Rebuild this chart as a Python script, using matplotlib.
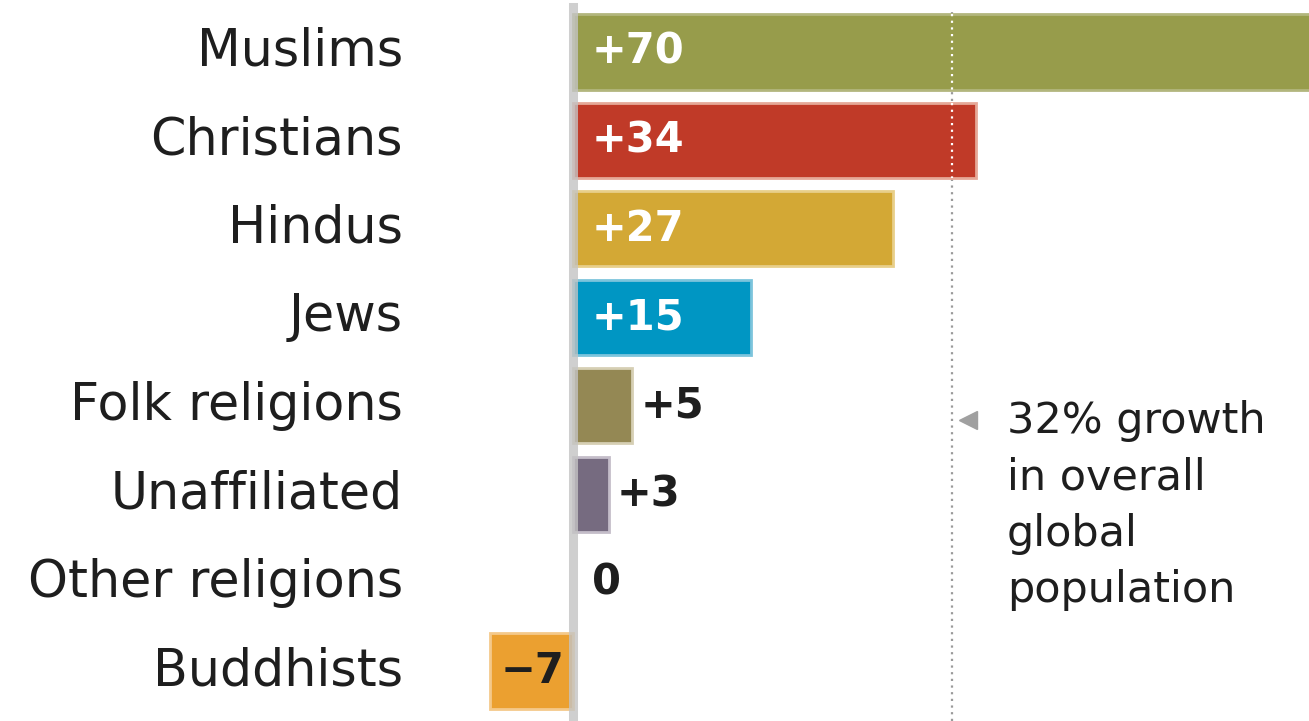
import matplotlib.pyplot as plt

groups = ["Muslims", "Christians", "Hindus", "Jews", "Folk religions",
          "Unaffiliated", "Other religions", "Buddhists"]
growth = [70, 34, 27, 15, 5, 3, 0, -7]
colors = ["#979c4b", "#c03a28", "#d3a835", "#0096c3", "#948854",
          "#766b80", "#ffffff", "#eba030"]
edges = ["#b2b67d", "#e6a898", "#e8cf8a", "#7cc4dc", "#d6cfb4",
         "#c4bdc9", "#ffffff", "#f4c98a"]
world_growth = 32
note = "32% growth\nin overall\nglobal\npopulation"

fig = plt.figure(figsize=(13.09, 7.21), dpi=100)
ax = fig.add_axes([0, 0, 1, 1])
ax.set_xlim(-48.35, 62.1)
ax.set_ylim(7.565, -0.588)
ax.axis("off")

y = list(range(len(groups)))
h = 0.85
ax.barh(y, growth, height=h, color=colors, edgecolor=edges, linewidth=2, zorder=2)

# zero line
ax.axvline(0, ymin=0, ymax=0.99, color="#c4c4c4", lw=6.5, alpha=0.8, zorder=3)

# overall population growth reference line
ax.axvline(world_growth, ymin=0, ymax=0.985, color="#9a9a9a", lw=1.6,
           ls=(0, (1, 2)), zorder=1)
for yi, v in zip(y, growth):
    if v > world_growth:
        ax.plot([world_growth, world_growth], [yi - h / 2, yi + h / 2],
                color="white", lw=1.6, ls=(0, (1, 2)), zorder=4)

ax.plot(33.3, 4.16, marker="<", color="#a0a0a0", ms=13, zorder=4)
ax.text(36.6, 3.94, note, fontsize=31, va="top", ha="left",
        color="#1e1e1e", linespacing=1.43)

for yi, name, v in zip(y, groups, growth):
    ax.text(-14.35, yi, name, fontsize=36.5, ha="right", va="center",
            color="#1e1e1e")
    if v >= 10:
        ax.text(1.6, yi, f"+{v}", fontsize=30, fontweight="bold",
                color="white", va="center", ha="left", zorder=5)
    elif v > 0:
        ax.text(v + 0.7, yi, f"+{v}", fontsize=30, fontweight="bold",
                color="#1e1e1e", va="center", ha="left", zorder=5)
    elif v == 0:
        ax.text(1.6, yi, "0", fontsize=30, fontweight="bold",
                color="#1e1e1e", va="center", ha="left", zorder=5)
    else:
        ax.text(-0.7, yi, f"\u2212{abs(v)}", fontsize=30, fontweight="bold",
                color="#1e1e1e", va="center", ha="right", zorder=5)

fig.savefig("out.png", dpi=100)
